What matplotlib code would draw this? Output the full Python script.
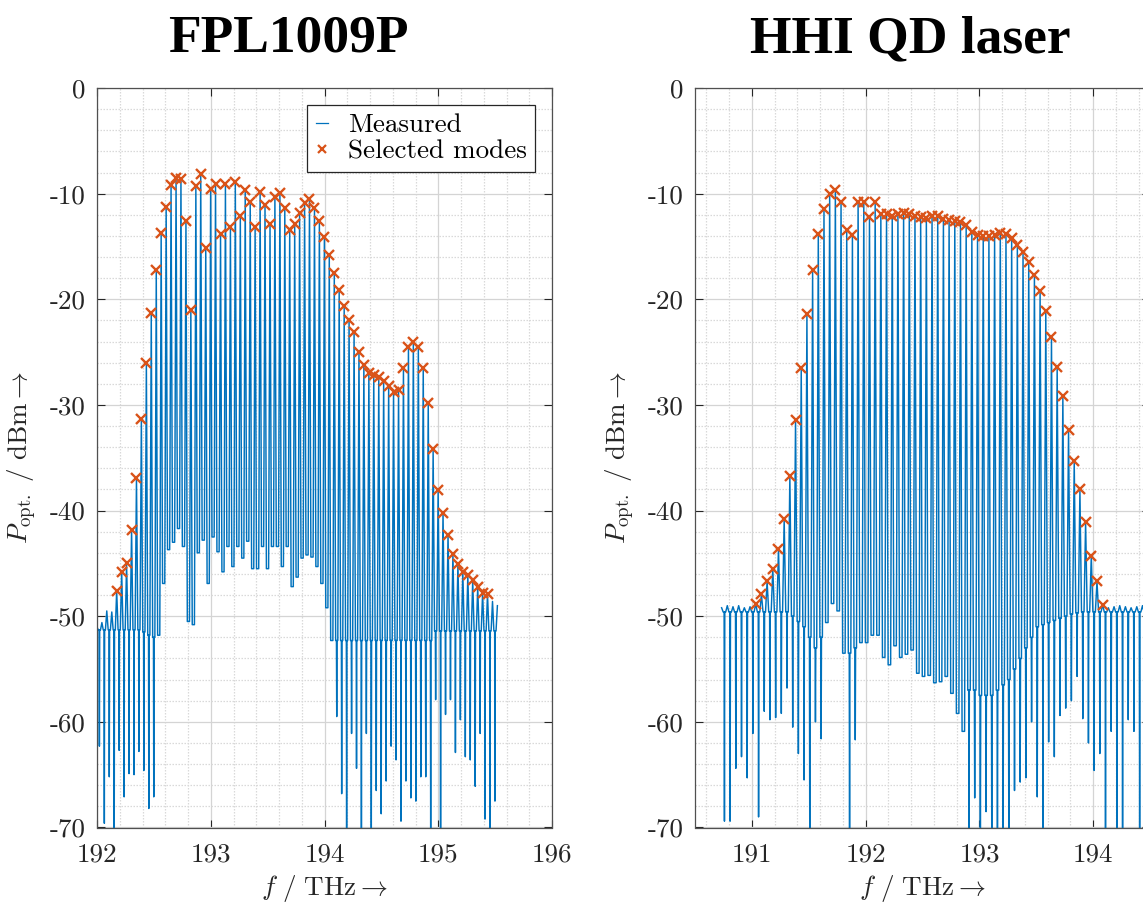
import matplotlib
matplotlib.use("Agg")
import matplotlib.pyplot as plt
from matplotlib.lines import Line2D
from matplotlib.ticker import MultipleLocator

plt.rcParams['mathtext.fontset'] = 'cm'
plt.rcParams['font.family'] = 'cmr10'
plt.rcParams['axes.unicode_minus'] = False

# ---------------------------------------------------------------- FPL1009P
# selected longitudinal modes (THz, dBm)
fpl_mode_f = [192.173, 192.217, 192.260, 192.304, 192.347, 192.390, 192.434, 192.477, 192.521, 192.564,
              192.608, 192.651, 192.695, 192.738, 192.782, 192.825, 192.869, 192.912, 192.956, 192.999,
              193.042, 193.086, 193.129, 193.173, 193.216, 193.260, 193.303, 193.347, 193.390, 193.434,
              193.477, 193.521, 193.564, 193.608, 193.651, 193.694, 193.738, 193.781, 193.825, 193.868,
              193.912, 193.955, 193.999, 194.042, 194.086, 194.129, 194.173, 194.216, 194.260, 194.303,
              194.346, 194.390, 194.433, 194.477, 194.520, 194.564, 194.607, 194.651, 194.694, 194.738,
              194.781, 194.825, 194.868, 194.912, 194.955, 194.999, 195.042, 195.086, 195.129, 195.173,
              195.216, 195.260, 195.303, 195.347, 195.390, 195.433]
fpl_mode_p = [-47.6, -45.8, -45.0, -41.8, -36.9, -31.3, -26.0, -21.3, -17.2, -13.7,
              -11.3, -9.2, -8.5, -8.6, -12.6, -21.0, -9.3, -8.1, -15.1, -9.6,
              -9.1, -13.8, -9.1, -13.2, -8.9, -12.1, -9.7, -10.8, -13.2, -9.8,
              -11.1, -12.9, -10.3, -9.9, -11.4, -13.4, -12.9, -11.8, -10.9, -10.5,
              -11.4, -12.6, -14.1, -15.8, -17.5, -19.1, -20.6, -22.0, -23.1, -25.0,
              -26.2, -27.0, -27.2, -27.4, -27.7, -28.2, -28.8, -28.6, -26.5, -24.5,
              -24.0, -24.5, -26.5, -29.8, -34.2, -38.1, -40.2, -42.3, -44.1, -45.1,
              -45.8, -46.1, -46.6, -47.2, -47.8, -47.9]
# weak modes in the measured trace outside the selection
fpl_lo_f = [191.999, 192.043, 192.086, 192.130]
fpl_lo_p = [-51.0, -50.6, -49.5, -49.6]
fpl_hi_f = [195.477, 195.520]
fpl_hi_p = [-48.6, -49.0]
# level between neighbouring modes and depth of the notch in each gap
fpl_floor = ([-51.3] * 9 + [-51.5, -51.8, -52.0, -51.8] +
             [-46.9, -43.7, -43.0, -41.7, -43.4, -50.5, -50.8, -44.0, -42.8, -46.9,
              -42.5, -43.9, -45.8, -43.4, -45.3, -43.4, -44.5, -42.9, -45.5, -45.5,
              -43.4, -45.5, -43.4, -43.4, -45.3, -43.4, -47.2, -46.3, -44.5, -44.2,
              -44.4, -45.3, -46.9, -49.2] +
             [-52.3] * 21 + [-51.4] * 13)
fpl_notch = ([-62.3, -69.6, -65.2, -71.0, -62.7, -67.1, -64.9, -65.0, -62.8, -64.6,
              -68.2, -67.1, None] + [None] * 34 +
             [None, -59.5, -66.8, -71.0, -61.1, -64.4, -71.0, -61.1, -71.0, -66.5,
              -68.7, -65.6, -62.3, -63.6, -69.4, -65.6, -67.2, -67.5, -65.2, -65.2,
              -71.0, -57.9, -71.0, -59.3, -57.9, -62.9, -59.8, -63.3, -63.6, -66.1,
              -61.1, -69.2, -71.0, -67.5])

# ---------------------------------------------------------------- HHI QD laser
hhi_mode_f = [191.033, 191.083, 191.133, 191.183, 191.233, 191.283, 191.333, 191.383, 191.433, 191.483,
              191.533, 191.583, 191.633, 191.683, 191.733, 191.783, 191.833, 191.883, 191.933, 191.983,
              192.033, 192.083, 192.133, 192.183, 192.233, 192.283, 192.333, 192.383, 192.433, 192.483,
              192.533, 192.583, 192.633, 192.683, 192.733, 192.783, 192.833, 192.883, 192.933, 192.983,
              193.033, 193.083, 193.133, 193.183, 193.233, 193.283, 193.333, 193.383, 193.433, 193.483,
              193.533, 193.583, 193.633, 193.683, 193.733, 193.783, 193.833, 193.883, 193.933, 193.983,
              194.033, 194.083]
hhi_mode_p = [-48.8, -47.9, -46.7, -45.5, -43.6, -40.8, -36.7, -31.4, -26.5, -21.4,
              -17.2, -13.8, -11.5, -10.0, -9.7, -10.8, -13.4, -13.9, -10.8, -10.8,
              -12.2, -10.8, -11.9, -11.9, -12.1, -11.9, -11.8, -11.9, -12.1, -12.2,
              -12.3, -12.1, -12.1, -12.4, -12.5, -12.6, -12.7, -13.0, -13.6, -13.9,
              -14.0, -14.0, -13.9, -13.7, -13.8, -14.2, -14.9, -15.5, -16.5, -17.7,
              -19.2, -21.1, -23.6, -26.4, -29.2, -32.4, -35.3, -38.0, -41.1, -44.3,
              -46.7, -48.9]
hhi_lo_f = [190.733, 190.783, 190.833, 190.883, 190.933, 190.983]
hhi_lo_p = [-49.2, -49.0, -49.1, -49.0, -49.2, -49.1]
hhi_hi_f = [194.133, 194.183, 194.233, 194.283, 194.333, 194.383, 194.433, 194.483]
hhi_hi_p = [-49.2, -49.1, -49.0, -49.1, -49.2, -49.1, -49.0, -49.1]
hhi_floor = ([-49.6] * 12 +
             [-50.0, -50.5, -51.0, -52.0, -53.0, -52.0, -50.6, -48.8, -49.5, -53.5,
              -53.5, -53.0, -52.5, -52.5, -51.8, -51.8, -53.9, -54.6, -52.8, -53.9,
              -53.6, -53.2, -55.4, -55.7, -55.6, -56.3, -56.2, -55.7, -57.3, -59.2,
              -60.9] +
             [-57.0, -57.0, -57.5, -57.5, -57.5, -57.0, -56.5, -56.0, -55.0, -54.0,
              -53.0, -52.0] +
             [-51.0, -50.8, -50.6, -50.4, -50.2, -50.0, -49.8, -49.7, -49.6] +
             [-49.6] * 11)
hhi_notch = ([-69.4, -69.4, -64.4, -63.3, -65.3, -61.1, -69.0, -59.0, -59.8, -59.6,
              -59.2, -56.8, -60.5, -63.0, -65.5, -71.0, -60.0, -61.6] +
             [None] * 4 + [-71.0, -61.7] + [None] * 19 +
             [-71.0, -67.2, -71.0, -68.5, -71.0, -71.0, -71.0, -71.0, -66.5, -65.7,
              -65.3, -60.0, -67.1, -71.0, -61.9, -63.3, -59.4, -58.7, -58.0, -55.7,
              -59.7, -62.0, -64.6, -63.0, -71.0, -60.9, -71.0, -71.0, -59.8, -60.9,
              -71.0, -59.4])

y_ticks = [0, -10, -20, -30, -40, -50, -60, -70]
fpl_x_ticks = [192, 193, 194, 195, 196]
hhi_x_ticks = [191, 192, 193, 194]

BLUE = '#0072BD'
ORANGE = '#D95319'
INK = '#262626'


def spectrum_trace(f, peak, floor, notch, half_width=0.28, notch_width=0.06):
    """Polyline of a mode comb: narrow peaks, a plateau between them and
    an optional sharp notch in the middle of each gap."""
    xs, ys = [], []
    n = len(f)
    for i in range(n):
        if i > 0:
            d = f[i] - f[i - 1]
            xs.append(f[i] - half_width * d)
            ys.append(floor[i - 1])
        xs.append(f[i])
        ys.append(peak[i])
        if i < n - 1:
            d = f[i + 1] - f[i]
            xs.append(f[i] + half_width * d)
            ys.append(floor[i])
            if notch[i] is not None:
                c = f[i] + 0.5 * d
                xs += [c - notch_width * d, c, c + notch_width * d]
                ys += [floor[i], notch[i], floor[i]]
    return xs, ys


W, H = 1143, 905
fig = plt.figure(figsize=(W / 100, H / 100), dpi=100)


def px_axes(left, top, right, bottom):
    return fig.add_axes([left / W, 1 - bottom / H, (right - left) / W, (bottom - top) / H])


def style(ax, xlim, xticks):
    ax.set_xlim(*xlim)
    ax.set_ylim(-70, 0)
    ax.set_xticks(xticks, labels=[str(t) for t in xticks])
    ax.set_yticks(y_ticks, labels=[str(t) for t in y_ticks])
    ax.xaxis.set_minor_locator(MultipleLocator(0.2))
    ax.yaxis.set_minor_locator(MultipleLocator(2))
    ax.grid(which='major', color='#d4d4d4', lw=0.9, ls='-')
    ax.grid(which='minor', color='#d9d9d9', lw=0.9, ls=(0, (1.2, 1.2)))
    ax.set_axisbelow(True)
    ax.tick_params(which='major', direction='in', length=6, width=0.8,
                   top=True, right=True, colors=INK, labelsize=19.5)
    ax.tick_params(axis='x', which='major', pad=11)
    ax.tick_params(axis='y', which='major', pad=8)
    ax.tick_params(which='minor', length=0)
    for s in ax.spines.values():
        s.set_color('#505050')
        s.set_linewidth(0.9)


panels = [
    (px_axes(97, 88, 552, 827.5), (192, 196), fpl_x_ticks,
     fpl_lo_f + fpl_mode_f + fpl_hi_f, fpl_lo_p + fpl_mode_p + fpl_hi_p,
     fpl_floor, fpl_notch, fpl_mode_f, fpl_mode_p),
    (px_axes(695.1, 88, 1150.1, 827.5), (190.5, 194.5), hhi_x_ticks,
     hhi_lo_f + hhi_mode_f + hhi_hi_f, hhi_lo_p + hhi_mode_p + hhi_hi_p,
     hhi_floor, hhi_notch, hhi_mode_f, hhi_mode_p),
]

for ax, xlim, xticks, tf, tp, fl, no, mf, mp in panels:
    style(ax, xlim, xticks)
    tx, ty = spectrum_trace(tf, tp, fl, no)
    ax.plot(tx, ty, color=BLUE, lw=1.05, zorder=2)
    ax.plot(mf, mp, ls='none', marker='x', color=ORANGE, ms=7, mew=1.7, zorder=3)
    ax.set_xlabel(r'$f\ /\ \mathrm{THz}\rightarrow$', fontsize=19.5, color=INK, labelpad=5)

ax1 = panels[0][0]
handles = [Line2D([], [], color=BLUE, lw=0.9),
           Line2D([], [], ls='none', marker='x', color=ORANGE, ms=6, mew=1.6)]
leg = ax1.legend(handles, ['Measured', 'Selected modes'], loc='upper right',
                 bbox_to_anchor=((535 - 97) / 455, (827.5 - 105) / 739.5),
                 borderaxespad=0, prop={'family': 'cmr10', 'size': 19.5},
                 handlelength=0.45, handletextpad=0.75, labelspacing=0.1,
                 borderpad=0.3, fancybox=False, framealpha=1, edgecolor=INK)
leg.get_frame().set_linewidth(0.9)

ylabel = r'$P_{\mathrm{opt.}}\ /\ \mathrm{dBm}\rightarrow$'
for xc in (22.5, 620.5):
    fig.text(xc / W, 1 - 457.5 / H, ylabel, rotation=90, ha='center', va='center',
             fontsize=19.5, color=INK)

title_kw = dict(family='Liberation Serif', weight='bold', size=38.5,
                ha='center', va='baseline', color='black')
fig.text(288 / W, 1 - 52 / H, 'FPL1009P', **title_kw)
fig.text(910 / W, 1 - 52 / H, 'HHI QD laser', **title_kw)

fig.savefig('out.png', dpi=100)
